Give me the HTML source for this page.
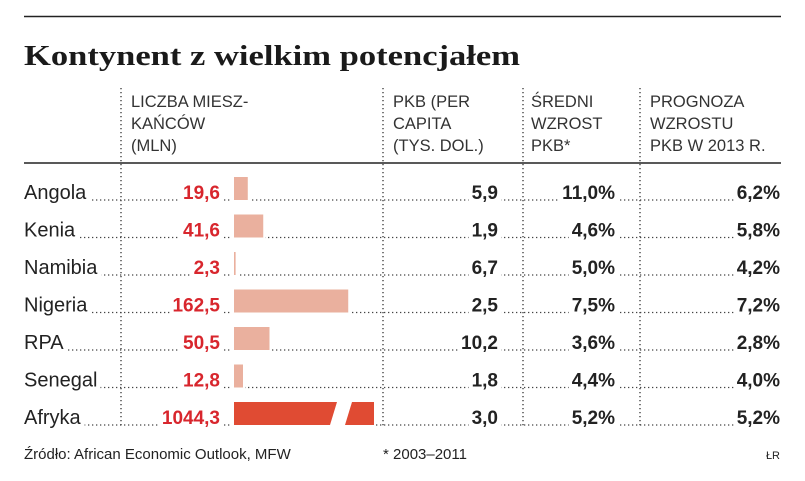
<!DOCTYPE html>
<html><head><meta charset="utf-8">
<style>
html,body{margin:0;padding:0;background:#fff;}
svg{display:block;font-family:"Liberation Sans",sans-serif;}
.nm{font-size:20px;fill:#222;}
.red{font-size:19px;font-weight:bold;fill:#d8262d;}
.val{font-size:19px;font-weight:bold;fill:#222;}
.hd{font-size:16.5px;fill:#333;}
</style></head>
<body>
<svg id="chart" width="805" height="481" viewBox="0 0 805 481">
  <line x1="24" y1="16.5" x2="781" y2="16.5" stroke="#222" stroke-width="1.5"/>
  <text x="24" y="65" font-family="Liberation Serif" font-weight="bold" font-size="29" fill="#1a1a1a" textLength="496" lengthAdjust="spacingAndGlyphs">Kontynent z wielkim potencjałem</text>
  <g>
    <text class="hd" x="131" y="107"><tspan x="131">LICZBA MIESZ-</tspan><tspan x="131" dy="22">KAŃCÓW</tspan><tspan x="131" dy="22">(MLN)</tspan></text>
    <text class="hd" x="393" y="107"><tspan x="393">PKB (PER</tspan><tspan x="393" dy="22">CAPITA</tspan><tspan x="393" dy="22">(TYS. DOL.)</tspan></text>
    <text class="hd" x="531" y="107"><tspan x="531">ŚREDNI</tspan><tspan x="531" dy="22">WZROST</tspan><tspan x="531" dy="22">PKB*</tspan></text>
    <text class="hd" x="650" y="107"><tspan x="650">PROGNOZA</tspan><tspan x="650" dy="22">WZROSTU</tspan><tspan x="650" dy="22">PKB W 2013 R.</tspan></text>
  </g>
  <line x1="24" y1="163" x2="781" y2="163" stroke="#222" stroke-width="1.5"/>
  <g id="vlines"></g>
  <g id="rows"></g>
  <text x="24" y="459" font-size="15" fill="#222">Źródło: African Economic Outlook, MFW</text>
  <text x="383" y="459" font-size="15" fill="#222">* 2003–2011</text>
  <text x="780" y="459" font-size="11" fill="#222" text-anchor="end">ŁR</text>
</svg>
<script>
const countries = ["Angola","Kenia","Namibia","Nigeria","RPA","Senegal","Afryka"];
const population = [19.6, 41.6, 2.3, 162.5, 50.5, 12.8, 1044.3];
const populationLabels = ["19,6","41,6","2,3","162,5","50,5","12,8","1044,3"];
const gdpPerCapita = ["5,9","1,9","6,7","2,5","10,2","1,8","3,0"];
const avgGrowth = ["11,0%","4,6%","5,0%","7,5%","3,6%","4,4%","5,2%"];
const forecast = ["6,2%","5,8%","4,2%","7,2%","2,8%","4,0%","5,2%"];

const NS = "http://www.w3.org/2000/svg";
const barX0 = 234, pxPerUnit = 0.703, barH = 23;
const rowY = i => 200 + i * 37.5;
const barW = v => v * pxPerUnit;
const brokenMax = 140;
const rows = document.getElementById('rows');
const vl = document.getElementById('vlines');
function mk(tag, attrs, parent){const e=document.createElementNS(NS,tag);for(const k in attrs)e.setAttribute(k,attrs[k]);parent.appendChild(e);return e;}

[121, 383, 523, 640].forEach(x=>{
  const l = mk('line',{x1:x,y1:88,x2:x,y2:428,stroke:'#333','stroke-width':1.3,'stroke-dasharray':'1.3 2.7'},vl);
  
  
});

countries.forEach((c,i)=>{
  const y = rowY(i);
  const g = mk('g',{},rows);
  
  
  const lead = mk('line',{x1:24,y1:y,x2:781,y2:y,stroke:'#444','stroke-width':1.3,'stroke-dasharray':'1.3 2.7'},g);
  
  
  function label(x,txt,cls,anchor,name){
    const t = mk('text',{x:x,y:y-1,'class':cls,'text-anchor':anchor},g);
    t.textContent = txt;
    const bb = t.getBBox();
    const r = document.createElementNS(NS,'rect');
    r.setAttribute('x',bb.x-3);r.setAttribute('y',bb.y);r.setAttribute('width',bb.width+6);r.setAttribute('height',bb.height+2);r.setAttribute('fill','#fff');
    g.insertBefore(r,t);
    
    
  }
  label(24,c,'nm','start','country-name');
  label(220,populationLabels[i],'red','end','population-value');
  label(498,gdpPerCapita[i],'val','end','gdp-per-capita-value');
  label(615,avgGrowth[i],'val','end','avg-growth-value');
  label(780,forecast[i],'val','end','forecast-value');
  const bg = mk('rect',{x:barX0-2,y:y-barH-1,width:Math.min(barW(population[i]),brokenMax)+4,height:barH+3,fill:'#fff'},g);
  if (barW(population[i]) <= brokenMax) {
    const b = mk('rect',{x:barX0,y:y-barH,width:Math.max(barW(population[i]),1.5),height:barH,fill:'#eab09e'},g);
    
    
  } else {
    const top=y-barH, bot=y, end=barX0+brokenMax;
    const p1 = mk('polygon',{points:`${barX0},${top} ${barX0+103},${top} ${barX0+96},${bot} ${barX0},${bot}`,fill:'#e04b33'},g);
    
    
    const p2 = mk('polygon',{points:`${barX0+118},${top} ${end},${top} ${end},${bot} ${barX0+111},${bot}`,fill:'#e04b33'},g);
    
    
  }
});
</script>
</body></html>
